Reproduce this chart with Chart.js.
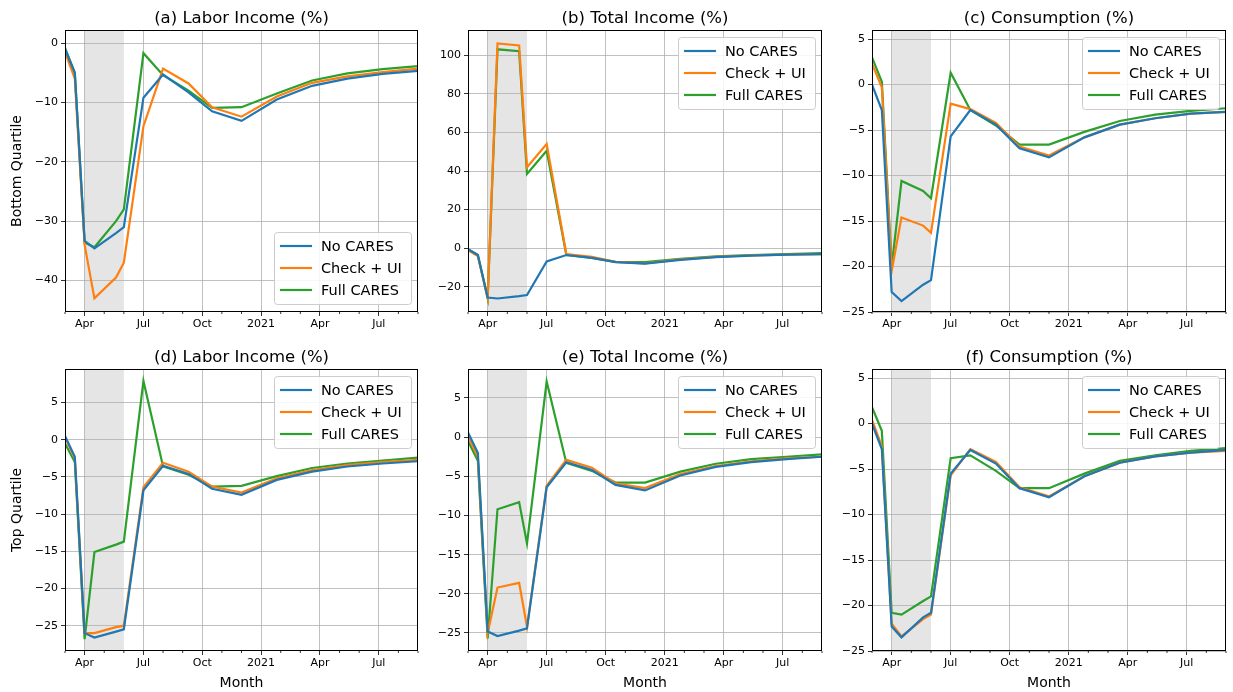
<!DOCTYPE html>
<html><head><meta charset="utf-8">
<script src="https://cdn.jsdelivr.net/npm/chart.js@4"></script>
<style>
body{margin:0;background:#fff;width:1233px;height:692px;position:relative;overflow:hidden;font-family:"DejaVu Sans";}
canvas{position:absolute;}
</style></head><body>
<canvas id="c0"></canvas><canvas id="c1"></canvas><canvas id="c2"></canvas>
<canvas id="c3"></canvas><canvas id="c4"></canvas><canvas id="c5"></canvas>
<script>
// months since 1 Mar 2020
const months = [0, 0.5, 1, 1.5, 2.6, 3, 4, 5, 6.3, 7.5, 9, 10.8, 12.6, 14.4, 16.2, 18];
const tickMonths = [1, 4, 7, 10, 13, 16];
const tickLabels = ['Apr', 'Jul', 'Oct', '2021', 'Apr', 'Jul'];
const seriesNames = ['No CARES', 'Check + UI', 'Full CARES'];
const titles = ['(a) Labor Income (%)', '(b) Total Income (%)', '(c) Consumption (%)',
                '(d) Labor Income (%)', '(e) Total Income (%)', '(f) Consumption (%)'];

const aNo    = [-1, -5, -33.3, -34.6, -32, -31, -9.2, -5.3, -8.3, -11.5, -13.1, -9.5, -7.2, -6.0, -5.2, -4.7];
const aCheck = [-1.5, -6, -34, -43, -39.5, -37, -14, -4.3, -6.8, -10.8, -12.4, -9.0, -6.7, -5.6, -4.9, -4.3];
const aFull  = [-0.8, -5, -33.6, -34.4, -30, -28, -1.7, -5.4, -8, -10.9, -10.8, -8.5, -6.3, -5.1, -4.4, -3.9];

const bNo    = [-0.5, -3.5, -25.5, -26, -24.8, -24.2, -6.8, -3.5, -5, -7.2, -8, -6, -4.6, -3.8, -3.3, -3.0];
const bCheck = [-1, -4, -25.5, 106, 105, 42, 54, -3, -4.5, -7, -7.8, -5.8, -4.5, -3.7, -3.3, -3.0];
const bFull  = [-0.5, -3.5, -26, 103, 102, 38.5, 50.5, -3.5, -5, -7, -7.2, -5.5, -4.2, -3.5, -3.0, -2.5];

const cNo    = [0, -2.8, -22.8, -23.8, -22, -21.5, -5.7, -2.8, -4.4, -7, -8, -5.8, -4.4, -3.7, -3.2, -3.0];
const cCheck = [2.3, -0.3, -20.5, -14.6, -15.5, -16.3, -2.1, -2.7, -4.2, -6.8, -7.8, -5.8, -4.4, -3.7, -3.2, -3.0];
const cFull  = [3, 0.3, -20, -10.6, -11.7, -12.5, 1.3, -2.8, -4.5, -6.6, -6.6, -5.2, -4.0, -3.3, -2.9, -2.6];

const dNo    = [0.5, -2.3, -26, -26.6, -25.8, -25.5, -6.8, -3.5, -4.6, -6.6, -7.4, -5.4, -4.3, -3.6, -3.2, -2.9];
const dCheck = [0.3, -2.5, -26, -26, -25.2, -25, -6.4, -3.1, -4.3, -6.3, -7.1, -5.2, -4.1, -3.4, -3.0, -2.7];
const dFull  = [-0.5, -3, -26.8, -15.1, -14.1, -13.7, 7.9, -3.6, -4.7, -6.3, -6.2, -4.9, -3.8, -3.2, -2.8, -2.4];

const eNo    = [0.6, -2, -24.8, -25.4, -24.7, -24.4, -6.4, -3.2, -4.2, -6.1, -6.8, -4.9, -3.8, -3.2, -2.8, -2.5];
const eCheck = [0.2, -2.5, -25, -19.2, -18.6, -24.2, -6.2, -2.9, -3.9, -5.9, -6.5, -4.7, -3.7, -3.1, -2.7, -2.5];
const eFull  = [-0.5, -3, -25.7, -9.2, -8.3, -13.6, 7.1, -3.3, -4.3, -5.8, -5.8, -4.4, -3.4, -2.8, -2.5, -2.2];

const fNo    = [0, -2.8, -22.3, -23.5, -21.3, -20.8, -5.5, -2.9, -4.4, -7.1, -8.1, -5.8, -4.3, -3.6, -3.2, -2.9];
const fCheck = [0.4, -2.5, -22, -23.4, -21.5, -21, -5.7, -2.8, -4.2, -7, -8, -5.8, -4.3, -3.6, -3.2, -3.0];
const fFull  = [1.8, -0.8, -20.8, -21, -19.5, -19, -3.8, -3.5, -5.2, -7.1, -7.1, -5.5, -4.1, -3.5, -3.0, -2.7];

const panelData = [[aNo,aCheck,aFull],[bNo,bCheck,bFull],[cNo,cCheck,cFull],[dNo,dCheck,dFull],[eNo,eCheck,eFull],[fNo,fCheck,fFull]];
const yRanges = [[-45.3,2.2,10],[-33,113,20],[-25,6,5],[-28.4,9.5,5],[-27.3,8.7,5],[-25,6,5]];
const colors = ['#1f77b4','#ff7f0e','#2ca02c'];
const FONT = 'DejaVu Sans';

const cols = [{left:0,w:425,yw:56,pl:9},{left:418,w:411,yw:50,pl:0},{left:822,w:411,yw:50,pl:0}];
const rows = [{top:0,h:340,pt:30,xh:28},{top:340,h:352,pt:29,xh:41}];

const deco = {
  id:'deco',
  beforeDraw(chart){
    const {ctx, chartArea:a, scales:{x}} = chart;
    ctx.save();
    ctx.fillStyle = '#e5e5e5';
    const x1 = x.getPixelForValue(1), x2 = x.getPixelForValue(3);
    ctx.fillRect(x1, a.top, x2-x1, a.bottom-a.top);
    ctx.restore();
  },
  afterDraw(chart, args, o){
    const {ctx, chartArea:a, scales:{x}} = chart;
    ctx.save();
    ctx.strokeStyle='#000'; ctx.lineWidth=0.8;
    for(let m=0;m<=18;m++){
      if(tickMonths.includes(m)) continue;
      const px=x.getPixelForValue(m);
      ctx.beginPath(); ctx.moveTo(px,a.bottom); ctx.lineTo(px,a.bottom+2); ctx.stroke();
    }
    ctx.lineWidth=1;
    ctx.strokeRect(a.left+0.5, a.top+0.5, a.right-a.left-1, a.bottom-a.top-1);
    ctx.fillStyle='#000'; ctx.font='16.5px "'+FONT+'"'; ctx.textAlign='center'; ctx.textBaseline='alphabetic';
    ctx.fillText(o.title, (a.left+a.right)/2, a.top-7);
    const bw=137, bh=72;
    const bx=a.right-bw-7;
    const by=o.legendBottom ? a.bottom-bh-8 : a.top+7;
    ctx.fillStyle='rgba(255,255,255,0.85)'; ctx.strokeStyle='#cccccc'; ctx.lineWidth=1;
    ctx.beginPath(); ctx.roundRect(bx+0.5,by+0.5,bw,bh,3); ctx.fill(); ctx.stroke();
    ctx.font='14.5px "'+FONT+'"'; ctx.textAlign='left'; ctx.textBaseline='middle';
    seriesNames.forEach((n,i)=>{
      const yy=by+14+i*22;
      ctx.strokeStyle=colors[i]; ctx.lineWidth=2.2;
      ctx.beginPath(); ctx.moveTo(bx+6,yy); ctx.lineTo(bx+38,yy); ctx.stroke();
      ctx.fillStyle='#000'; ctx.fillText(n,bx+47,yy+1);
    });
    ctx.restore();
  }
};

for(let p=0;p<6;p++){
  const r=rows[Math.floor(p/3)], c=cols[p%3];
  const cv=document.getElementById('c'+p);
  cv.style.left=c.left+'px'; cv.style.top=r.top+'px';
  cv.style.width=c.w+'px'; cv.style.height=r.h+'px';
  cv.width=c.w; cv.height=r.h;
  const [ymin,ymax,step]=yRanges[p];
  new Chart(cv,{
    type:'line',
    data:{datasets:panelData[p].map((arr,i)=>({
      label:seriesNames[i],
      data:months.map((m,k)=>({x:m,y:arr[k]})),
      borderColor:colors[i], borderWidth:2.2, pointRadius:0, tension:0, fill:false
    }))},
    options:{
      responsive:false, animation:false, devicePixelRatio:1,
      layout:{padding:{top:r.pt,right:7,left:c.pl,bottom:0}},
      plugins:{legend:{display:false},tooltip:{enabled:false},
        deco:{title:titles[p], legendBottom:p===0}},
      scales:{
        x:{type:'linear',min:0,max:18,
          afterBuildTicks(ax){ax.ticks=tickMonths.map(v=>({value:v}));},
          afterFit(ax){ax.height=r.xh;},
          ticks:{autoSkip:false,maxRotation:0,color:'#000',font:{family:FONT,size:11},padding:2,
            callback:(v)=>tickLabels[tickMonths.indexOf(v)]},
          grid:{color:'#b0b0b0',lineWidth:0.8,tickLength:4,tickColor:'#000'},
          border:{display:false},
          title:{display:p>=3,text:'Month',color:'#000',font:{family:FONT,size:14},padding:{top:0,bottom:0}}
        },
        y:{min:ymin,max:ymax,
          afterBuildTicks(ax){const t=[];for(let v=Math.ceil(ymin/step)*step;v<=ymax;v+=step)t.push({value:v});ax.ticks=t;},
          afterFit(ax){ax.width=c.yw;},
          ticks:{color:'#000',font:{family:FONT,size:11},padding:3,
            callback:(v)=>String(v).replace('-','\u2212')},
          grid:{color:'#b0b0b0',lineWidth:0.8,tickLength:4,tickColor:'#000'},
          border:{display:false},
          title:{display:p%3===0,text:p===0?'Bottom Quartile':'Top Quartile',color:'#000',font:{family:FONT,size:14},padding:{top:0,bottom:2}}
        }
      }
    },
    plugins:[deco]
  });
}
</script></body></html>
